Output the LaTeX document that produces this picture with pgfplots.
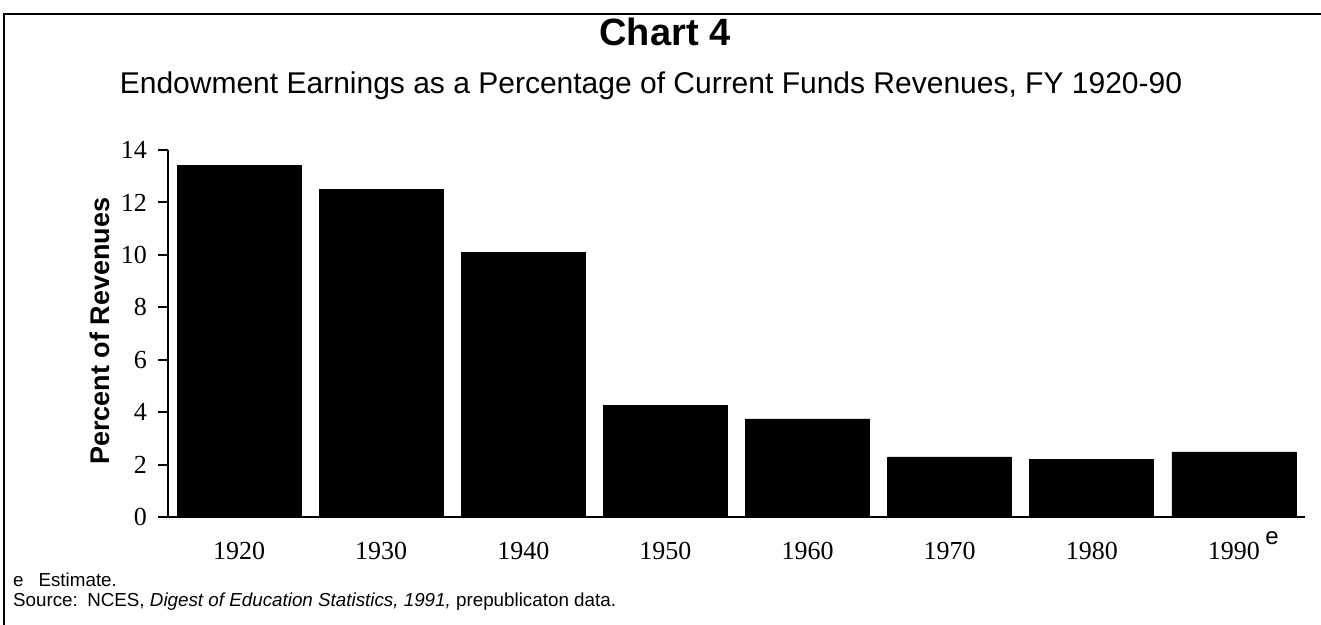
\documentclass[border=0pt]{standalone}
\usepackage{pgfplots}
\pgfplotsset{compat=1.18}
\usepackage{fontspec}
\setmainfont{Liberation Sans}
\newfontfamily\seriffont{Liberation Serif}
\begin{document}
\begin{tikzpicture}
\begin{scope}[x=0.5pt,y=-0.5pt]
\useasboundingbox (0,0) rectangle (1321,625);
\draw[line width=1pt] (4,625) -- (4,14) -- (1321,14);
\node[font=\bfseries\fontsize{19}{22}\selectfont] at (665,32) {Chart 4};
\node[font=\fontsize{15}{17}\selectfont] at (651,86) {Endowment Earnings as a Percentage of Current Funds Revenues, FY 1920-90};
\node[rotate=90,font=\bfseries\fontsize{13.5}{15}\selectfont] at (100,331) {Percent of Revenues};
\node[anchor=west,font=\fontsize{9.4}{11}\selectfont] at (6,580) {e\hspace{0.8em}Estimate.};
\node[anchor=west,font=\fontsize{9.4}{11}\selectfont] at (6,602) {Source:\hspace{0.5em}NCES, \textit{Digest of Education Statistics, 1991,} prepublicaton data.};
\node[font=\fontsize{12}{13}\selectfont] at (1272,538) {e};
\end{scope}
\begin{axis}[
  at={(84pt,-258.5pt)}, anchor=south west,
  scale only axis, width=568.5pt, height=183.5pt,
  xmin=-0.5, xmax=7.5, ymin=0, ymax=14,
  axis x line=bottom, axis y line=left,
  axis line style={-, line width=1pt},
  xtick={0,...,7},
  xticklabels={1920,1930,1940,1950,1960,1970,1980,1990},
  x tick style={draw=none},
  ytick={0,2,...,14},
  y tick style={line width=1pt, black},
  tick align=outside, major tick length=5pt,
  tick label style={font=\seriffont\fontsize{13}{15}\selectfont},
  yticklabel style={xshift=-2pt},
  xticklabel style={yshift=-4pt},
  /pgf/number format/assume math mode=true,
]
\addplot[ybar, bar width=62pt, fill=black, draw=black] coordinates {
(0,13.4) (1,12.48) (2,10.1) (3,4.24) (4,3.74) (5,2.29) (6,2.21) (7,2.48)};
\end{axis}
\end{tikzpicture}
\end{document}
